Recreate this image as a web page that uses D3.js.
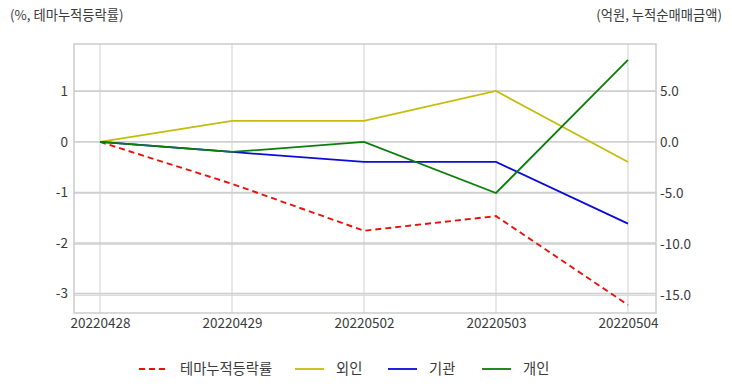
<!DOCTYPE html>
<html>
<head>
<meta charset="utf-8">
<script src="https://cdn.jsdelivr.net/npm/d3@7"></script>
<style>
  body { margin: 0; background: #fff; }
  svg text { font-family: "Noto Sans CJK KR", "Noto Sans", sans-serif; }
</style>
</head>
<body>
<svg id="chart" width="732" height="392"></svg>
<script>
// dates on the x axis
const dates = ['20220428', '20220429', '20220502', '20220503', '20220504'];
// left axis: theme cumulative change (%)
const themeRate = [0, -0.83, -1.76, -1.47, -3.23];
// right axis: cumulative net buying (억원)
const foreign = [0, 2.06, 2.06, 5.0, -1.96];
const institution = [0, -0.98, -1.96, -1.96, -8.0];
const individual = [0, -0.98, 0, -5.0, 8.04];
const leftTicks = [-3, -2, -1, 0, 1];
const rightTicks = [-15, -10, -5, 0, 5];
const seriesNames = ['테마누적등락률', '외인', '기관', '개인'];
const seriesColors = ['#e8120c', '#c4bd0c', '#0b0bdc', '#0b7d0b'];

const svg = d3.select('#chart');
const plot = {left: 74, right: 656, top: 44, bottom: 313};

const x = d3.scalePoint().domain(dates).range([100, 628]);
const yL = d3.scaleLinear().domain([-3.39, 1.94]).range([plot.bottom, plot.top]);
const yR = d3.scaleLinear().domain([-16.76, 9.6]).range([plot.bottom, plot.top]);

const grid = svg.append('g');
// vertical grid
grid.selectAll('line.vx').data(dates).enter().append('line')
  .attr('x1', d => x(d)).attr('x2', d => x(d))
  .attr('y1', plot.top).attr('y2', plot.bottom)
  .attr('stroke', '#cfcfcf').attr('stroke-width', 1);
// left horizontal grid
grid.selectAll('line.hl').data(leftTicks).enter().append('line')
  .attr('x1', plot.left).attr('x2', plot.right)
  .attr('y1', d => yL(d)).attr('y2', d => yL(d))
  .attr('stroke', '#cfcfcf').attr('stroke-width', 1.3);
// right horizontal grid
grid.selectAll('line.hr').data(rightTicks).enter().append('line')
  .attr('x1', plot.left).attr('x2', plot.right)
  .attr('y1', d => yR(d)).attr('y2', d => yR(d))
  .attr('stroke', '#cfcfcf').attr('stroke-width', 1.3);

// frame
svg.append('rect')
  .attr('x', plot.left).attr('y', plot.top)
  .attr('width', plot.right - plot.left).attr('height', plot.bottom - plot.top)
  .attr('fill', 'none').attr('stroke', '#cccccc').attr('stroke-width', 1.5);

// axes
const axL = svg.append('g').attr('transform', `translate(${plot.left},0)`)
  .call(d3.axisLeft(yL).tickValues(leftTicks).tickSize(0).tickPadding(6));
const axR = svg.append('g').attr('transform', `translate(${plot.right},0)`)
  .call(d3.axisRight(yR).tickValues(rightTicks).tickSize(0).tickPadding(4));
const axB = svg.append('g').attr('transform', `translate(0,${plot.bottom})`)
  .call(d3.axisBottom(x).tickSize(0).tickPadding(5));
[axL, axR, axB].forEach(a => {
  a.select('.domain').remove();
  a.selectAll('text').attr('fill', '#3a3a3a').style('font-size', '13.5px');
});
axR.selectAll('text').text(d => d.toFixed(1));
axL.selectAll('text').text(d => String(d));

// lines
const lineL = d3.line().x((d, i) => x(dates[i])).y(d => yL(d));
const lineR = d3.line().x((d, i) => x(dates[i])).y(d => yR(d));

svg.append('path').datum(themeRate).attr('d', lineL)
  .attr('fill', 'none').attr('stroke', seriesColors[0]).attr('stroke-width', 1.9)
  .attr('stroke-dasharray', '6,4');
[foreign, institution, individual].forEach((s, k) => {
  svg.append('path').datum(s).attr('d', lineR)
    .attr('fill', 'none').attr('stroke', seriesColors[k + 1]).attr('stroke-width', 1.8);
});

// axis titles
svg.append('text').attr('x', 10).attr('y', 20).text('(%, 테마누적등락률)')
  .attr('fill', '#3a3a3a').style('font-size', '13.3px');
svg.append('text').attr('x', 722).attr('y', 20).attr('text-anchor', 'end').text('(억원, 누적순매매금액)')
  .attr('fill', '#3a3a3a').style('font-size', '13.3px');

// legend
const legendX = [139, 295, 388, 482];
const lg = svg.append('g');
seriesNames.forEach((n, i) => {
  lg.append('line').attr('x1', legendX[i]).attr('x2', legendX[i] + 29)
    .attr('y1', 369).attr('y2', 369)
    .attr('stroke', seriesColors[i]).attr('stroke-width', 1.8)
    .attr('stroke-dasharray', i === 0 ? '6,4' : null);
  lg.append('text').attr('x', legendX[i] + 41).attr('y', 374).text(n)
    .attr('fill', '#3a3a3a').style('font-size', '14.3px');
});
</script>
</body>
</html>
